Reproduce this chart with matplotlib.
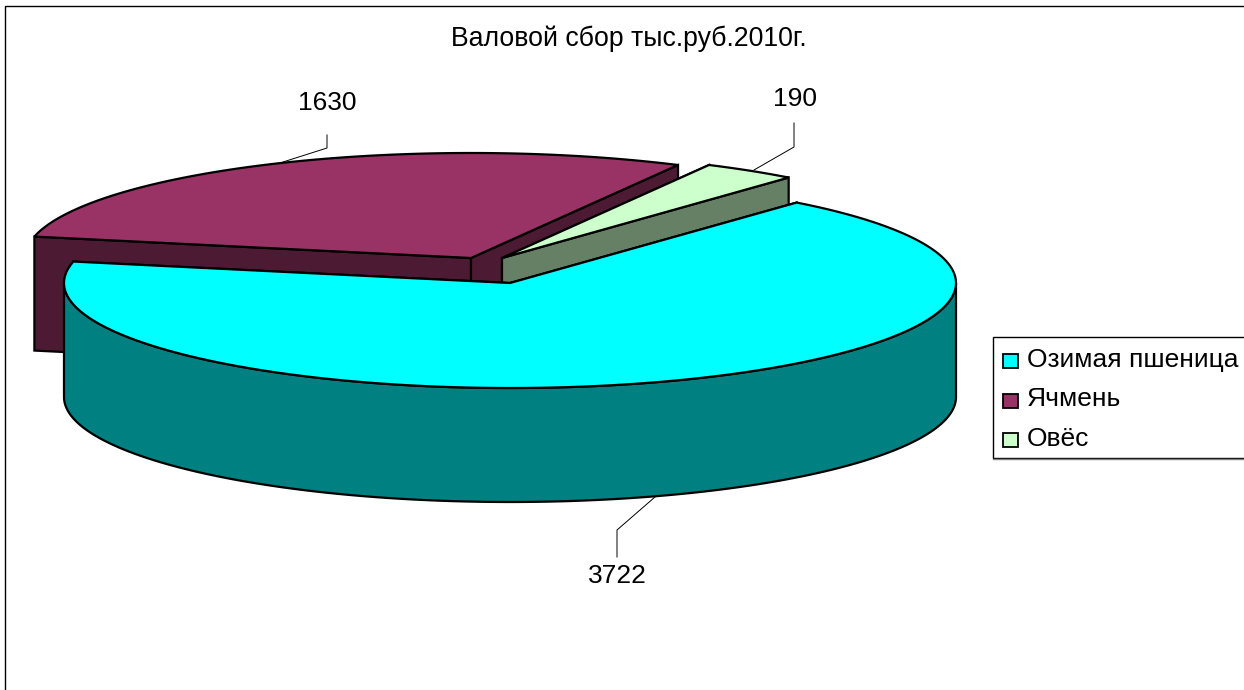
import numpy as np
import matplotlib
matplotlib.use('Agg')
import matplotlib.pyplot as plt
from matplotlib.patches import Polygon, Rectangle

plt.rcParams['font.family'] = ['Liberation Sans', 'DejaVu Sans']

# Data
title = 'Валовой сбор тыс.руб.2010г.'
categories = ['Озимая пшеница', 'Ячмень', 'Овёс']
values = [3722, 1630, 190]

top_colors = ['#00FFFF', '#993366', '#CCFFCC']
wall_colors = ['#008080', '#4D1A33', '#668066']

# Pie geometry, in pixels of the picture
rx, ry = 446, 105
depth = 114
start_angle = 50
# apex of every slice, the last two are pulled out
centers = [(510, 283), (471, 258), (502, 258)]
# draw order: back slices first
draw_order = [1, 2, 0]

fig = plt.figure(figsize=(12.44, 6.9), dpi=100)
ax = fig.add_axes([0, 0, 1, 1])
ax.set_xlim(0, 1244)
ax.set_ylim(690, 0)
ax.axis('off')

# Outer frame of the chart area
ax.add_patch(Rectangle((5, 6), 1300, 800, fill=False, edgecolor='black', lw=1.0))

# Slice angles go clockwise from the start angle
total = sum(values)
sweeps = [v / total * 360 for v in values]
ends = start_angle - np.cumsum(sweeps)
starts = ends + np.array(sweeps)


def arc(center, a1, a2, n=200):
    t = np.radians(np.linspace(a1, a2, n))
    return np.column_stack([center[0] + rx * np.cos(t), center[1] - ry * np.sin(t)])


def shifted(points):
    return points + np.array([0, depth])


for i in draw_order:
    c = centers[i]
    a1, a2 = starts[i], ends[i]
    apex = np.array([c])
    p1 = arc(c, a1, a1, 1)
    p2 = arc(c, a2, a2, 1)

    # two cut walls
    for p in (p1, p2):
        wall = np.vstack([apex, p, shifted(p), shifted(apex)])
        ax.add_patch(Polygon(wall, closed=True, facecolor=wall_colors[i], edgecolor='black', lw=1.6))

    # outer wall, only the part turned to the viewer
    lo, hi = max(a2, -180), min(a1, 0)
    if lo < hi:
        rim = arc(c, lo, hi)
        ax.add_patch(Polygon(np.vstack([rim, shifted(rim)[::-1]]), closed=True,
                             facecolor=wall_colors[i], edgecolor='black', lw=1.6))

    # top face
    top = np.vstack([apex, arc(c, a1, a2, 400)])
    ax.add_patch(Polygon(top, closed=True, facecolor=top_colors[i], edgecolor='black', lw=1.6))

# Leader lines and value labels
leaders = [([617, 617, 655], [557, 530, 497]),
           ([327, 327, 283], [135, 148, 162]),
           ([794, 794, 754], [123, 147, 170])]
label_pos = [(617, 576), (327, 103), (795, 99)]
for i in range(len(values)):
    ax.plot(leaders[i][0], leaders[i][1], color='black', lw=0.7, solid_joinstyle='miter')
    ax.text(label_pos[i][0], label_pos[i][1], str(values[i]), fontsize=19, ha='center', va='center')

ax.text(629, 39, title, fontsize=19.2, ha='center', va='center')

# Legend, drawn by hand because the box runs off the right edge
ax.plot([993, 1244], [459, 459], color='#808080', lw=1.0)
ax.add_patch(Rectangle((993, 337), 300, 121, facecolor='white', edgecolor='black', lw=1.0))
baselines = [367, 406.5, 446]
for i in range(len(categories)):
    ax.add_patch(Rectangle((1003, baselines[i] - 13), 15, 14, facecolor=top_colors[i],
                           edgecolor='black', lw=1.3))
    ax.text(1027, baselines[i], categories[i], fontsize=19, ha='left', va='baseline')

fig.savefig('out.png', dpi=100)
